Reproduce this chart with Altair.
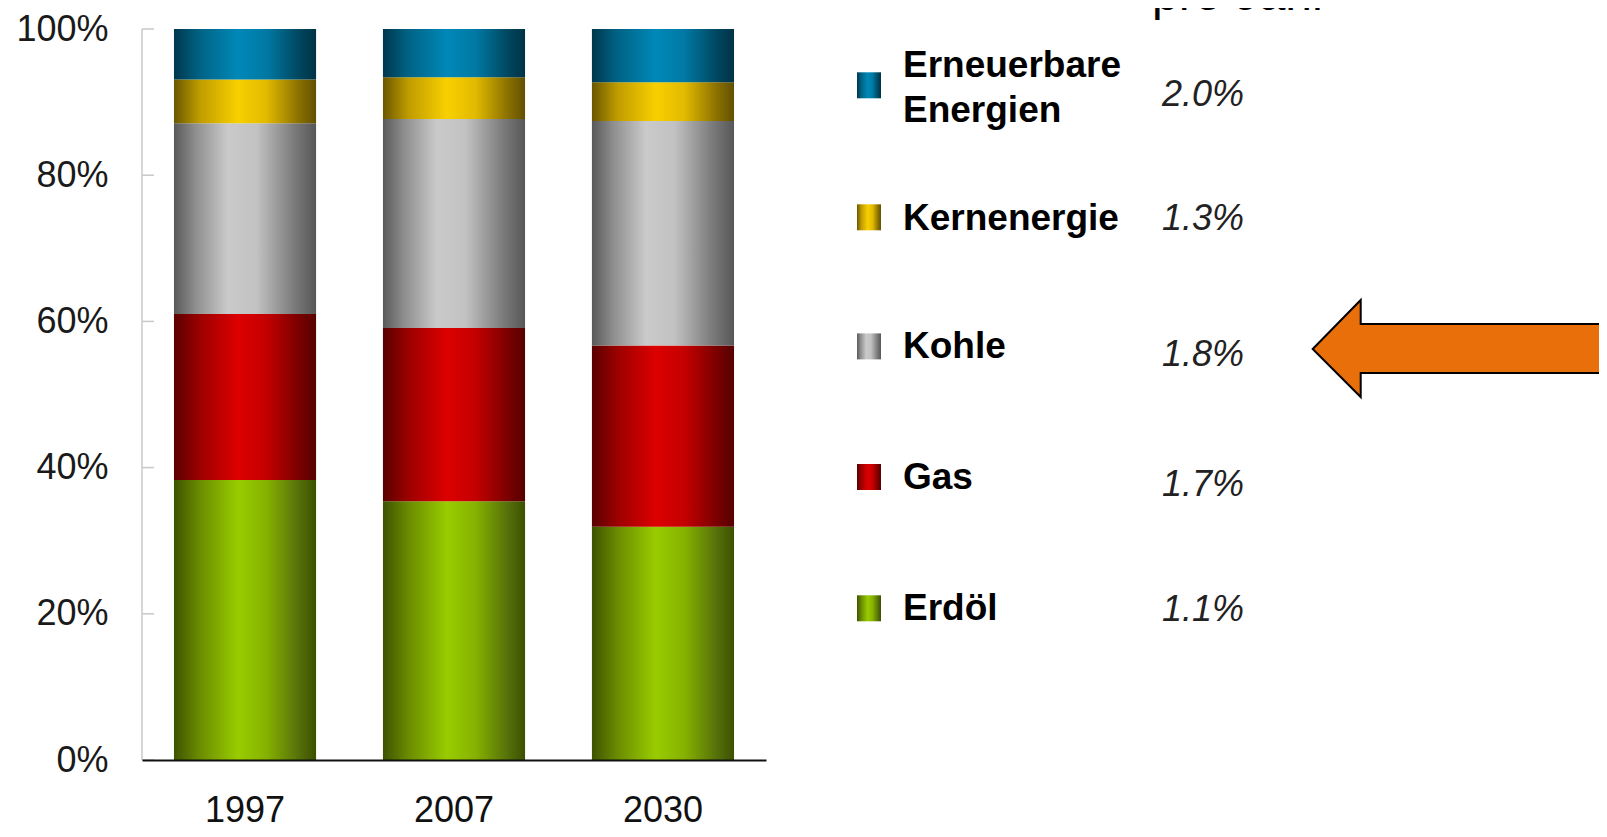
import altair as alt
import pandas as pd

# ---------------- data ----------------
years = ["1997", "2007", "2030"]
series = ["Erdöl", "Gas", "Kohle", "Kernenergie", "Erneuerbare Energien"]
erdoel = [38.3, 35.4, 31.9]
gas = [22.7, 23.7, 24.8]
kohle = [26.1, 28.6, 30.7]
kern = [6.0, 5.7, 5.3]
erneuerbare = [6.9, 6.6, 7.3]
legend_labels = ["Erdöl", "Gas", "Kohle", "Kernenergie", "Erneuerbare\nEnergien"]
growth = ["1.1%", "1.7%", "1.8%", "1.3%", "2.0%"]
y_ticks = [0, 20, 40, 60, 80, 100]
header_text = ["pro Jahr"]

shares = [erdoel, gas, kohle, kern, erneuerbare]
rows = []
for order, (s, vals) in enumerate(zip(series, shares)):
    for yr, v in zip(years, vals):
        rows.append({"year": yr, "series": s, "share": v, "order": order})
df = pd.DataFrame(rows)
leg = pd.DataFrame({"series": series, "label": legend_labels, "rate": growth})
ticks_df = pd.DataFrame({"tick": y_ticks})
axis_df = pd.DataFrame({"lo": [min(y_ticks)], "hi": [max(y_ticks)]})
head_df = pd.DataFrame({"t": header_text})
arrow_df = pd.DataFrame({"a": [0]})

# ---------------- styles ----------------
def grad(stops):
    return alt.LinearGradient(
        gradient="linear", x1=0, x2=1, y1=0, y2=0,
        stops=[alt.GradientStop(offset=o, color=c) for o, c in stops],
    )

GRADS = {
    "Erdöl": grad([(0, "#3e5300"), (0.18, "#6a8c00"), (0.45, "#99cc00"), (0.65, "#86b200"), (0.88, "#55700a"), (1, "#3c5000")]),
    "Gas": grad([(0, "#5a0000"), (0.18, "#9c0000"), (0.45, "#dd0000"), (0.65, "#c40000"), (0.88, "#7a0000"), (1, "#560000")]),
    "Kohle": grad([(0, "#595959"), (0.15, "#8e8e8e"), (0.38, "#cacaca"), (0.58, "#c2c2c2"), (0.85, "#7a7a7a"), (1, "#575757")]),
    "Kernenergie": grad([(0, "#6a5700"), (0.18, "#c09c00"), (0.45, "#f8d000"), (0.65, "#e2ba00"), (0.88, "#8a7000"), (1, "#625000")]),
    "Erneuerbare Energien": grad([(0, "#00374d"), (0.18, "#006385"), (0.45, "#0088b8"), (0.65, "#0079a4"), (0.88, "#00475f"), (1, "#003246")]),
}

W, H = 1457, 731
PAD = {"left": 134, "top": 21, "right": 0, "bottom": 69}

# legend layout (view pixel coordinates)
SW_X0, SW_X1 = 715, 739
LABEL_X = 761
RATE_X = 1102
SW_Y = {"Erneuerbare Energien": 56.3, "Kernenergie": 188.3, "Kohle": 317.4, "Gas": 448, "Erdöl": 579.3}
LB_Y = {"Erneuerbare Energien": 36.5, "Kernenergie": 190, "Kohle": 318.4, "Gas": 448.6, "Erdöl": 579.8}
RT_Y = {"Erneuerbare Energien": 66.3, "Kernenergie": 190.3, "Kohle": 325.6, "Gas": 455.7, "Erdöl": 580.8}

FONT = "Liberation Sans"

yscale = alt.Scale(domain=[0, 100], nice=False, zero=True)
yaxis = alt.Axis(
    title=None, domain=False, ticks=False, grid=False, values=y_ticks,
    labelExpr="datum.value + '%'", labelFont=FONT, labelFontSize=36,
    labelColor="#1a1a1a", labelPadding=34,
)
xscale = alt.Scale(domain=years, range=[0, 624], paddingInner=0.32, paddingOuter=0.153)
xaxis = alt.Axis(
    title=None, ticks=False, grid=False, domainColor="#111111", domainWidth=2,
    labelFont=FONT, labelFontSize=36, labelColor="#111111", labelPadding=33,
    labelAngle=0, zindex=1,
)

base = alt.Chart(df).transform_stack(
    stack="share", groupby=["year"], as_=["y0", "y1"],
    sort=[alt.SortField("order", order="ascending")],
)

layers = []
for s in series:
    layers.append(
        base.transform_filter(alt.datum.series == s)
        .mark_bar(color=GRADS[s])
        .encode(
            x=alt.X("year:N", scale=xscale, axis=xaxis, sort=years),
            y=alt.Y("y0:Q", scale=yscale, axis=yaxis),
            y2="y1:Q",
        )
    )

# y axis line and inward ticks
layers.append(
    alt.Chart(axis_df).mark_rule(color="#c8c8c8", strokeWidth=1.5).encode(
        x=alt.value(0), y=alt.Y("lo:Q", scale=yscale, axis=yaxis), y2="hi:Q"
    )
)
layers.append(
    alt.Chart(ticks_df).mark_rule(color="#c8c8c8", strokeWidth=1.5).encode(
        x=alt.value(0), x2=alt.value(12), y=alt.Y("tick:Q", scale=yscale, axis=yaxis)
    )
)

# legend
for s in series:
    cy = SW_Y[s]
    ld = alt.Chart(leg).transform_filter(alt.datum.series == s)
    layers.append(
        ld.mark_rect(color=GRADS[s]).encode(
            x=alt.value(SW_X0), x2=alt.value(SW_X1),
            y=alt.value(cy - 13), y2=alt.value(cy + 13),
        )
    )
    layers.append(
        ld.mark_text(
            font=FONT, fontWeight="bold", fontSize=37, align="left",
            baseline="middle", lineBreak="\n", lineHeight=45, color="#000000",
        ).encode(text="label:N", x=alt.value(LABEL_X), y=alt.value(LB_Y[s]))
    )
    layers.append(
        ld.mark_text(
            font=FONT, fontStyle="italic", fontSize=36, align="right",
            baseline="middle", color="#222222",
        ).encode(text="rate:N", x=alt.value(RATE_X), y=alt.value(RT_Y[s]))
    )

# header (cut off at top, as in the reference)
layers.append(
    alt.Chart(head_df).mark_text(
        font=FONT, fontSize=48, align="center", baseline="alphabetic", color="#000000"
    ).encode(text="t:N", x=alt.value(1098), y=alt.value(-19))
)

# orange arrow pointing at the Kohle row
ARROW = "M0,0 L0.48,-0.49 L0.48,-0.25 L3.4,-0.25 L3.4,0.24 L0.48,0.24 L0.48,0.48 Z"
layers.append(
    alt.Chart(arrow_df).mark_point(
        shape=ARROW, size=40000, filled=True, fill="#e96f0b", stroke="#000000",
        strokeWidth=2, opacity=1,
    ).encode(x=alt.value(1170.7), y=alt.value(320))
)

chart = alt.layer(*layers).properties(
    width=W, height=H, padding=PAD,
    autosize=alt.AutoSizeParams(type="none"),
    background="white",
).configure_view(stroke=None)

chart.save("out.html", embed_options={"renderer": "svg", "actions": False})
